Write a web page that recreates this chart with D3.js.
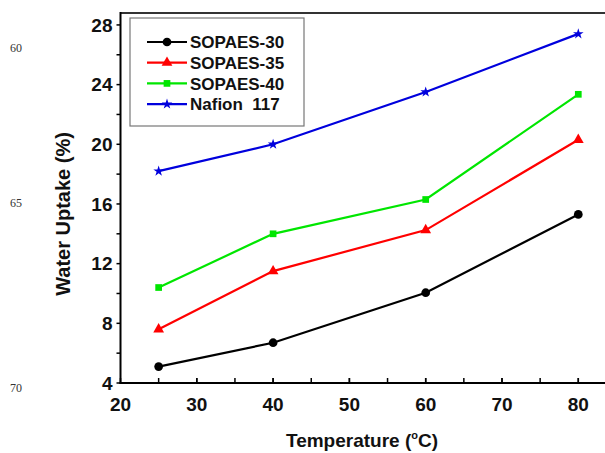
<!DOCTYPE html>
<html>
<head>
<meta charset="utf-8">
<script src="https://cdn.jsdelivr.net/npm/d3@7/dist/d3.min.js"></script>
<style>
  html, body { margin: 0; padding: 0; background: #fff; }
  svg { display: block; font-family: Arial, "Liberation Sans", sans-serif; }
</style>
</head>
<body>
<div id="chart"></div>
<script>
// ── Data ────────────────────────────────────────────────────────────────
var temps = [25, 40, 60, 80];
var seriesNames = ["SOPAES-30", "SOPAES-35", "SOPAES-40", "Nafion  117"];
var sopaes30 = [5.1, 6.7, 10.05, 15.3];
var sopaes35 = [7.6, 11.5, 14.25, 20.3];
var sopaes40 = [10.4, 14.0, 16.3, 23.35];
var nafion117 = [18.2, 20.0, 23.5, 27.4];
var xTicks = [20, 30, 40, 50, 60, 70, 80];
var yTicks = [4, 8, 12, 16, 20, 24, 28];
var lineNumbers = ["60", "65", "70"];

(function () {
  var W = 605, H = 453;

  var x = d3.scaleLinear().domain([20, 83.5]).range([120.5, 605]);
  var y = d3.scaleLinear().domain([4, 28.8]).range([383, 13]);

  var svg = d3.select("#chart").append("svg")
    .attr("width", W).attr("height", H);

  // ── Frame (top edge) ─────────────────────────────────────────────────
  svg.append("line")
    .attr("x1", x(20)).attr("x2", W + 2)
    .attr("y1", y(28.8)).attr("y2", y(28.8))
    .attr("stroke", "#333").attr("stroke-width", 2);

  // ── Axes ─────────────────────────────────────────────────────────────
  var xMinor = d3.range(25, 84, 5);
  var xAxis = svg.append("g").attr("transform", "translate(0," + y(4) + ")");
  xAxis.append("line")
    .attr("x1", x(20) - 1).attr("x2", W + 2)
    .attr("stroke", "#000").attr("stroke-width", 2);
  xAxis.selectAll("line.tick")
    .data(xTicks.concat(xMinor))
    .join("line").attr("class", "tick")
    .attr("x1", function (d) { return x(d); })
    .attr("x2", function (d) { return x(d); })
    .attr("y1", 0).attr("y2", -5)
    .attr("stroke", "#000").attr("stroke-width", 1.5);
  xAxis.selectAll("text")
    .data(xTicks)
    .join("text")
    .attr("x", function (d) { return x(d); })
    .attr("y", 28)
    .attr("text-anchor", "middle")
    .attr("font-size", "19px").attr("font-weight", "bold")
    .attr("fill", "#111")
    .text(function (d) { return d; });

  var yMinor = d3.range(6, 28.5, 4);
  var yAxis = svg.append("g").attr("transform", "translate(" + x(20) + ",0)");
  yAxis.append("line")
    .attr("y1", y(28.8) - 1).attr("y2", y(4) + 1)
    .attr("stroke", "#000").attr("stroke-width", 2);
  yAxis.selectAll("line.tick")
    .data(yTicks.concat(yMinor))
    .join("line").attr("class", "tick")
    .attr("y1", function (d) { return y(d); })
    .attr("y2", function (d) { return y(d); })
    .attr("x1", 0).attr("x2", -4)
    .attr("stroke", "#000").attr("stroke-width", 1.5);
  yAxis.selectAll("text")
    .data(yTicks)
    .join("text")
    .attr("x", -8)
    .attr("y", function (d) { return y(d); })
    .attr("dy", "0.36em")
    .attr("text-anchor", "end")
    .attr("font-size", "19px").attr("font-weight", "bold")
    .attr("fill", "#111")
    .text(function (d) { return d; });

  // ── Axis titles ──────────────────────────────────────────────────────
  var xt = svg.append("text")
    .attr("x", 362).attr("y", 447)
    .attr("text-anchor", "middle")
    .attr("font-size", "19px").attr("font-weight", "bold")
    .attr("fill", "#111");
  xt.append("tspan").text("Temperature (");
  xt.append("tspan").attr("font-size", "11px").attr("dy", -8).text("o");
  xt.append("tspan").attr("dy", 8).text("C)");

  svg.append("text")
    .attr("transform", "translate(70,214) rotate(-90)")
    .attr("text-anchor", "middle")
    .attr("font-size", "20px").attr("font-weight", "bold")
    .attr("fill", "#111")
    .text("Water Uptake (%)");

  // ── Line numbers in the margin ──────────────────────────────────────
  var lnY = [48, 203, 388];
  svg.selectAll("text.ln")
    .data(lineNumbers)
    .join("text").attr("class", "ln")
    .attr("x", 10).attr("y", function (d, i) { return lnY[i]; })
    .attr("dy", "0.35em")
    .attr("font-family", "'Liberation Serif', 'Times New Roman', serif")
    .attr("font-size", "12px")
    .attr("fill", "#333")
    .text(function (d) { return d; });

  // ── Series ───────────────────────────────────────────────────────────
  var series = [
    { name: seriesNames[0], values: sopaes30, color: "#000000", symbol: d3.symbolCircle, size: 60 },
    { name: seriesNames[1], values: sopaes35, color: "#ff0000", symbol: d3.symbolTriangle, size: 50 },
    { name: seriesNames[2], values: sopaes40, color: "#00e600", symbol: d3.symbolSquare, size: 45 },
    { name: seriesNames[3], values: nafion117, color: "#0000dd", symbol: d3.symbolStar, size: 35 }
  ];

  var line = d3.line()
    .x(function (d) { return x(d[0]); })
    .y(function (d) { return y(d[1]); });

  series.forEach(function (s) {
    var pts = temps.map(function (t, i) { return [t, s.values[i]]; });
    svg.append("path")
      .datum(pts)
      .attr("fill", "none")
      .attr("stroke", s.color)
      .attr("stroke-width", 2.2)
      .attr("d", line);
    svg.selectAll(null)
      .data(pts)
      .join("path")
      .attr("transform", function (d) { return "translate(" + x(d[0]) + "," + y(d[1]) + ")"; })
      .attr("d", d3.symbol().type(s.symbol).size(s.size))
      .attr("fill", s.color);
  });

  // ── Legend ───────────────────────────────────────────────────────────
  var lgd = svg.append("g").attr("transform", "translate(130,18)");
  lgd.append("rect")
    .attr("x", 0).attr("y", 0)
    .attr("width", 174).attr("height", 108)
    .attr("fill", "#fff")
    .attr("stroke", "#777").attr("stroke-width", 1.2);

  series.forEach(function (s, i) {
    var row = lgd.append("g").attr("transform", "translate(0," + (24 + i * 20.7) + ")");
    row.append("line")
      .attr("x1", 17).attr("x2", 57)
      .attr("stroke", s.color).attr("stroke-width", 2.2);
    row.append("path")
      .attr("transform", "translate(37,0)")
      .attr("d", d3.symbol().type(s.symbol).size(s.size))
      .attr("fill", s.color);
    row.append("text")
      .attr("x", 60).attr("dy", "0.36em")
      .attr("font-size", "17px").attr("font-weight", "bold")
      .attr("fill", "#111")
      .style("white-space", "pre")
      .text(s.name);
  });
})();
</script>
</body>
</html>
